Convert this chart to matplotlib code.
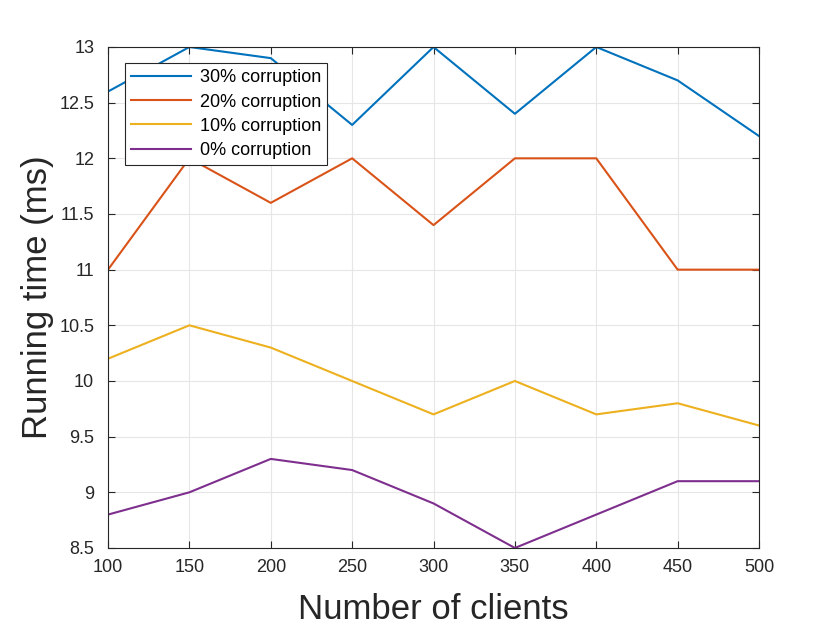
import matplotlib
matplotlib.use("Agg")
import matplotlib.pyplot as plt

plt.rcParams['font.family'] = ['Liberation Sans', 'DejaVu Sans']

clients = [100, 150, 200, 250, 300, 350, 400, 450, 500]
c30 = [12.6, 13.0, 12.9, 12.3, 13.0, 12.4, 13.0, 12.7, 12.2]
c20 = [11.0, 12.0, 11.6, 12.0, 11.4, 12.0, 12.0, 11.0, 11.0]
c10 = [10.2, 10.5, 10.3, 10.0, 9.7, 10.0, 9.7, 9.8, 9.6]
c0 = [8.8, 9.0, 9.3, 9.2, 8.9, 8.5, 8.8, 9.1, 9.1]

yticks = [8.5, 9, 9.5, 10, 10.5, 11, 11.5, 12, 12.5, 13]
ytick_labels = ['8.5', '9', '9.5', '10', '10.5', '11', '11.5', '12', '12.5', '13']

fig = plt.figure(figsize=(8.4, 6.3), dpi=100)
ax = fig.add_axes([0.1286, 0.1302, 0.7750, 0.7952])

ax.plot(clients, c30, color='#0072BD', lw=1.5, label='30% corruption')
ax.plot(clients, c20, color='#D95319', lw=1.5, label='20% corruption')
ax.plot(clients, c10, color='#EDB120', lw=1.5, label='10% corruption')
ax.plot(clients, c0, color='#7E2F8E', lw=1.5, label='0% corruption')

ax.set_xlim(100, 500)
ax.set_ylim(8.5, 13)
ax.set_xticks(clients)
ax.set_yticks(yticks)
ax.set_yticklabels(ytick_labels)
ax.grid(True, color='#e6e6e6', lw=0.8)
ax.set_axisbelow(True)
ax.tick_params(direction='in', top=True, right=True, labelsize=13,
               colors='#262626', length=5, pad=8)
ax.tick_params(axis='y', pad=10)
for s in ax.spines.values():
    s.set_color('#262626')

ax.set_xlabel('Number of clients', fontsize=25, color='#262626', labelpad=12)
ax.set_ylabel('Running time (ms)', fontsize=25, color='#262626', labelpad=4)

leg = ax.legend(loc='upper left', bbox_to_anchor=(0.026, 0.968), fontsize=13,
                fancybox=False, framealpha=1, edgecolor='#262626',
                borderpad=0.35, handlelength=3.3, labelspacing=0.4,
                handletextpad=0.5, borderaxespad=0)
leg.get_frame().set_linewidth(0.8)

fig.savefig('out.png', dpi=100)
